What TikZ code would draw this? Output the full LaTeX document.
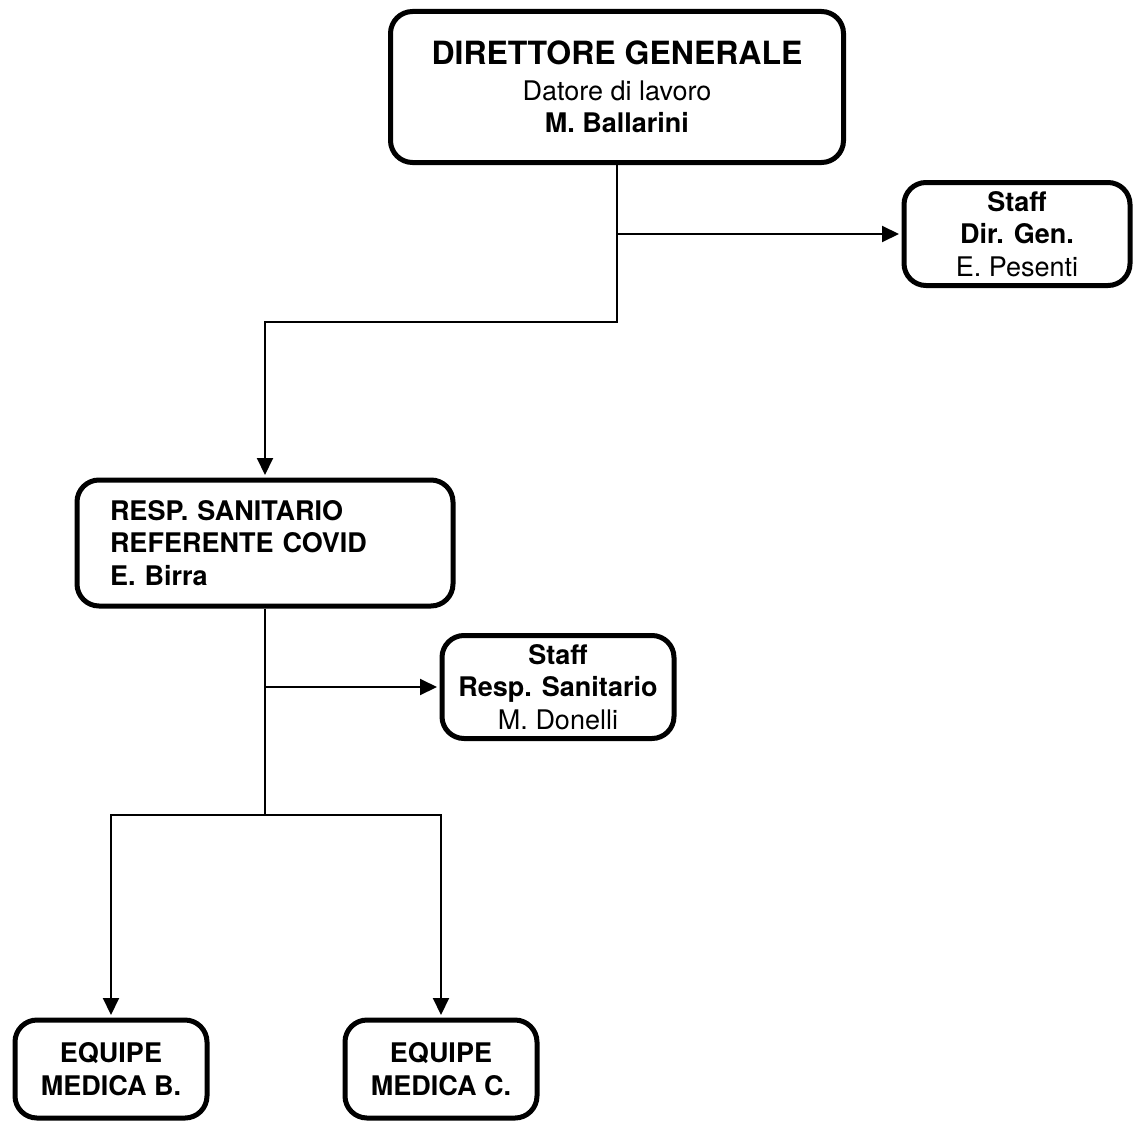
\documentclass[tikz,border=0pt]{standalone}
\usepackage{fontspec}
\setmainfont{TeX Gyre Heros}
\usetikzlibrary{arrows.meta}

\tikzset{
  box/.style={draw, line width=5pt, rounded corners=22pt, align=center, inner sep=0pt,
    font=\fontsize{27}{32.5}\selectfont},
  link/.style={line width=2pt, shorten >=2.5pt, -{Triangle[length=17pt,width=16pt]}},
  wire/.style={line width=2pt},
}

\begin{document}
\begin{tikzpicture}[x=1pt,y=-1pt]
\useasboundingbox (0,0) rectangle (1137,1129);

% Direzione
\node[box, minimum width=453pt, minimum height=151pt] (dg) at (617,87)
  {{\fontsize{32}{38}\selectfont\bfseries DIRETTORE GENERALE}\\[3pt] Datore di lavoro\\ \textbf{M. Ballarini}};
\node[box, minimum width=226pt, minimum height=103pt] (sdg) at (1017,234)
  {\textbf{Staff}\\ \textbf{Dir. Gen.}\\ E. Pesenti};

% Responsabile sanitario
\node[box, align=left, text width=310pt, minimum width=376pt, minimum height=126pt,
  font=\fontsize{27}{32.5}\selectfont\bfseries] (rs) at (265,543)
  {RESP. SANITARIO\\ REFERENTE COVID\\ E. Birra};
\node[box, minimum width=232pt, minimum height=103pt] (srs) at (558,687)
  {\textbf{Staff}\\ \textbf{Resp. Sanitario}\\ M. Donelli};

% Equipe
\node[box, minimum width=192pt, minimum height=98pt,
  font=\fontsize{27}{32.5}\selectfont\bfseries] (eb) at (111,1069) {EQUIPE\\ MEDICA B.};
\node[box, minimum width=192pt, minimum height=98pt,
  font=\fontsize{27}{32.5}\selectfont\bfseries] (ec) at (441,1069) {EQUIPE\\ MEDICA C.};

% Collegamenti
\coordinate (dgjoin) at (617,234);
\coordinate (dgturn) at (617,322);
\coordinate (rsjoin) at (265,687);
\coordinate (rsturn) at (265,815);

\draw[link] (dg.south) -- (dgturn) -| (rs.north);
\draw[link] (dgjoin) -- (sdg.west);
\draw[wire] (rs.south) -- (rsturn);
\draw[link] (rsjoin) -- (srs.west);
\draw[link] (rsturn) -| (eb.north);
\draw[link] (rsturn) -| (ec.north);
\end{tikzpicture}
\end{document}
